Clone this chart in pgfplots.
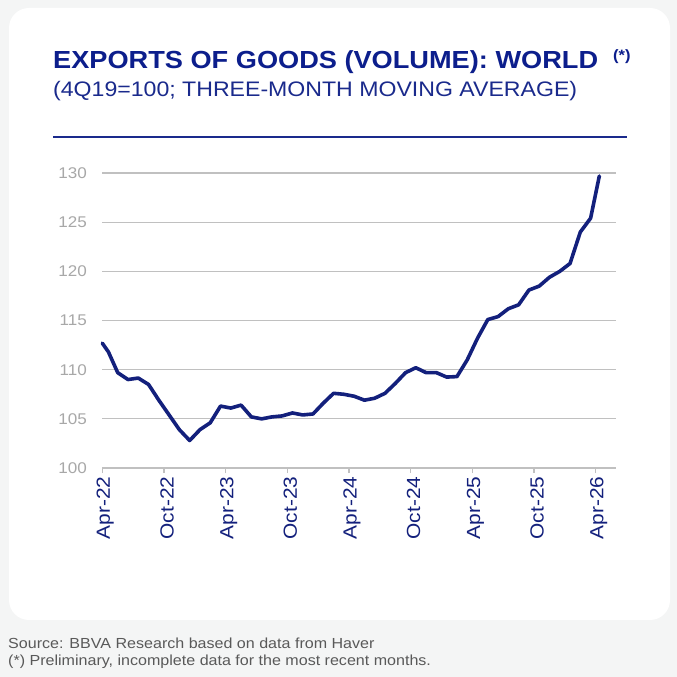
\documentclass[border=0pt]{standalone}
\usepackage{fontspec}
\setmainfont{Liberation Sans}[FakeStretch=1.1]
\usepackage{pgfplots}
\pgfplotsset{compat=1.18}
\definecolor{bg}{HTML}{F4F5F5}
\definecolor{titlenavy}{HTML}{0C1E8C}
\definecolor{subnavy}{HTML}{1A2A8C}
\definecolor{linenavy}{HTML}{13207C}
\definecolor{gridgray}{HTML}{C0C0C0}
\definecolor{ylab}{HTML}{A8A8A8}
\definecolor{srcgray}{HTML}{595959}
\pgfplotstableread{
x y
0 112.7
0.6 111.8
1.5 109.7
2.5 109.0
3.5 109.15
4.5 108.5
5.5 106.9
6.5 105.4
7.5 103.9
8.5 102.8
9.5 103.9
10.5 104.6
11.5 106.3
12.5 106.1
13.5 106.4
14.5 105.2
15.5 105.0
16.5 105.2
17.5 105.3
18.5 105.6
19.5 105.4
20.5 105.5
21.5 106.6
22.5 107.6
23.5 107.5
24.5 107.3
25.5 106.9
26.5 107.1
27.5 107.6
28.5 108.6
29.5 109.7
30.5 110.2
31.5 109.7
32.5 109.7
33.5 109.25
34.5 109.3
35.5 111.0
36.5 113.2
37.5 115.1
38.5 115.4
39.5 116.2
40.5 116.6
41.5 118.1
42.5 118.5
43.5 119.4
44.5 120.0
45.5 120.8
46.5 124.0
47.5 125.4
48.35 129.7
}\exports
\begin{document}
\begin{tikzpicture}[x=1bp,y=1bp]
\fill[bg] (0,0) rectangle (677,677);
\fill[white, rounded corners=20bp] (9,57) rectangle (670,669);
\node[anchor=base west, inner sep=0, text=titlenavy, font=\fontsize{24.7bp}{28bp}\selectfont\bfseries] at (53,608.5) {EXPORTS OF GOODS (VOLUME): WORLD\hspace{15bp}\raisebox{8bp}{\fontsize{15bp}{15bp}\selectfont(*)}};
\node[anchor=base west, inner sep=0, text=subnavy, font=\fontsize{21bp}{24bp}\selectfont] at (53,580.8) {(4Q19=100; THREE-MONTH MOVING AVERAGE)};
\draw[subnavy, line width=2bp] (53,540) -- (627,540);
\begin{axis}[
  at={(99.5,212.5)}, anchor=south west,
  width=514bp, height=295bp, scale only axis,
  xmin=0, xmax=50, ymin=100, ymax=130,
  axis line style={draw=none},
  ymajorgrids, grid style={gridgray, line width=1.2bp},
  ytick={100,105,...,130},
  xtick={0,6,...,48},
  xticklabels={Apr-22,Oct-22,Apr-23,Oct-23,Apr-24,Oct-24,Apr-25,Oct-25,Apr-26},
  xtick pos=bottom, tick align=outside,
  major tick length=5bp,
  xtick style={gridgray, line width=1.2bp},
  ytick style={draw=none},
  xticklabel style={rotate=90, anchor=east, text=linenavy, font=\fontsize{19bp}{19bp}\selectfont, yshift=-3bp},
  yticklabel style={text=ylab, font=\fontsize{15.5bp}{16bp}\selectfont, xshift=-7bp},
  /pgf/number format/assume math mode=true,
  clip=false,
]
\addplot[linenavy, line width=3.6bp, line join=round, line cap=round] table[x=x,y=y] {\exports};
\end{axis}
\node[anchor=base west, inner sep=0, text=srcgray, font=\fontsize{14.6bp}{16bp}\selectfont] at (8,28) {Source: BBVA Research based on data from Haver};
\node[anchor=base west, inner sep=0, text=srcgray, font=\fontsize{14.6bp}{16bp}\selectfont] at (8,11) {(*) Preliminary, incomplete data for the most recent months.};
\end{tikzpicture}
\end{document}
